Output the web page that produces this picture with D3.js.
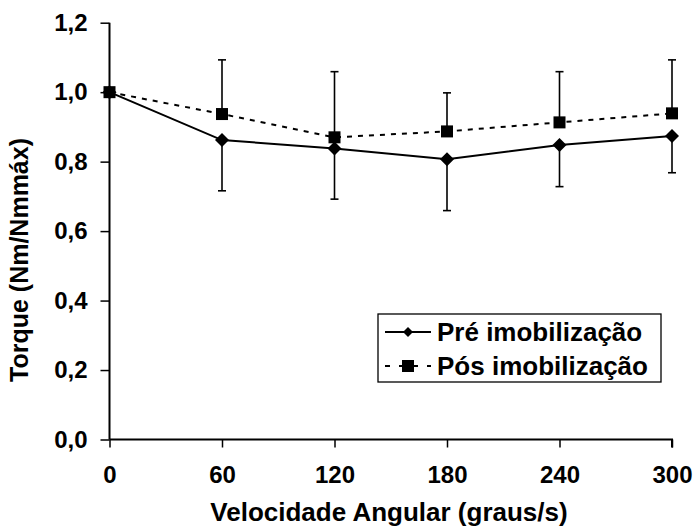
<!DOCTYPE html>
<html>
<head>
<meta charset="utf-8">
<script src="https://cdn.jsdelivr.net/npm/d3@7"></script>
<style>
  body { margin: 0; background: #fff; }
  text { font-family: "Liberation Sans", Arial, sans-serif; font-weight: bold; fill: #000; }
  .axis text { font-size: 24px; }
</style>
</head>
<body>
<div id="chart"></div>
<script>
var velocities = [0, 60, 120, 180, 240, 300];
var preValues = [1.0, 0.862, 0.838, 0.807, 0.848, 0.874];
var preLower = [1.0, 0.716, 0.692, 0.659, 0.728, 0.768];
var posValues = [1.0, 0.937, 0.870, 0.887, 0.913, 0.939];
var posUpper = [1.0, 1.093, 1.059, 0.998, 1.059, 1.093];
var yTicks = [0, 0.2, 0.4, 0.6, 0.8, 1.0, 1.2];
var seriesNames = ["Pré imobilização", "Pós imobilização"];

var width = 694, height = 529;
var margin = { left: 109.5, right: 22, top: 22.7, bottom: 89.5 };

var svg = d3.select("#chart").append("svg")
    .attr("width", width)
    .attr("height", height);

var x = d3.scaleLinear().domain([0, 300]).range([margin.left, width - margin.right]);
var y = d3.scaleLinear().domain([0, 1.2]).range([height - margin.bottom, margin.top]);

var fmt = function(d) { return d3.format(".1f")(d).replace(".", ","); };

// y axis
var yAxis = svg.append("g")
    .attr("class", "axis")
    .attr("transform", "translate(" + margin.left + ",0)")
    .call(d3.axisLeft(y).tickValues(yTicks).tickFormat(fmt).tickSize(9).tickPadding(13));
yAxis.attr("font-size", 24).attr("font-family", "Liberation Sans, Arial, sans-serif").attr("font-weight", "bold");
yAxis.select(".domain").attr("stroke-width", 2).attr("d", "M0," + y(0) + "V" + y(1.2));
yAxis.selectAll(".tick line").attr("stroke-width", 1.5);

// x axis
var xAxis = svg.append("g")
    .attr("class", "axis")
    .attr("transform", "translate(0," + y(0) + ")")
    .call(d3.axisBottom(x).tickValues(velocities).tickSize(8).tickPadding(18));
xAxis.attr("font-size", 24).attr("font-family", "Liberation Sans, Arial, sans-serif").attr("font-weight", "bold");
xAxis.select(".domain").attr("stroke-width", 2).attr("d", "M" + x(0) + ",0H" + x(300) + "V8");
xAxis.selectAll(".tick line").attr("stroke-width", 1.5);

// axis titles
svg.append("text")
    .attr("x", 389).attr("y", 521)
    .attr("text-anchor", "middle")
    .style("font-size", "26px")
    .text("Velocidade Angular (graus/s)");

svg.append("text")
    .attr("transform", "translate(28," + 260 + ") rotate(-90)")
    .attr("text-anchor", "middle")
    .style("font-size", "25px")
    .text("Torque (Nm/Nmmáx)");

// error bars
var cap = 4;
function errorBars(vals, ends) {
    var g = svg.append("g").attr("stroke", "#000").attr("stroke-width", 1.6);
    velocities.forEach(function(v, i) {
        if (ends[i] === vals[i]) return;
        g.append("line")
            .attr("x1", x(v)).attr("x2", x(v))
            .attr("y1", y(vals[i])).attr("y2", y(ends[i]));
        g.append("line")
            .attr("x1", x(v) - cap).attr("x2", x(v) + cap)
            .attr("y1", y(ends[i])).attr("y2", y(ends[i]));
    });
}
errorBars(preValues, preLower);
errorBars(posValues, posUpper);

var line = d3.line()
    .x(function(d, i) { return x(velocities[i]); })
    .y(function(d) { return y(d); });

svg.append("path")
    .datum(posValues)
    .attr("fill", "none")
    .attr("stroke", "#000")
    .attr("stroke-width", 2)
    .attr("stroke-dasharray", "5,6")
    .attr("d", line);

svg.append("path")
    .datum(preValues)
    .attr("fill", "none")
    .attr("stroke", "#000")
    .attr("stroke-width", 2)
    .attr("d", line);

var diamond = "M0,-7L7,0L0,7L-7,0Z";

svg.selectAll(".pre")
    .data(preValues)
    .enter().append("path")
    .attr("class", "pre")
    .attr("d", diamond)
    .attr("transform", function(d, i) { return "translate(" + x(velocities[i]) + "," + y(d) + ")"; });

svg.selectAll(".pos")
    .data(posValues)
    .enter().append("rect")
    .attr("class", "pos")
    .attr("x", function(d, i) { return x(velocities[i]) - 6; })
    .attr("y", function(d) { return y(d) - 6; })
    .attr("width", 12).attr("height", 12);

// legend
var lg = svg.append("g");
lg.append("rect")
    .attr("x", 378).attr("y", 314)
    .attr("width", 283).attr("height", 68)
    .attr("fill", "#fff").attr("stroke", "#000").attr("stroke-width", 1.3);

lg.append("line").attr("x1", 385).attr("x2", 431).attr("y1", 332).attr("y2", 332)
    .attr("stroke", "#000").attr("stroke-width", 2);
lg.append("path").attr("d", "M0,-5L5,0L0,5L-5,0Z").attr("transform", "translate(408,332)");

lg.append("line").attr("x1", 385).attr("x2", 431).attr("y1", 366).attr("y2", 366)
    .attr("stroke", "#000").attr("stroke-width", 2).attr("stroke-dasharray", "5,9");
lg.append("rect").attr("x", 402).attr("y", 360).attr("width", 12).attr("height", 12);

lg.selectAll(".lt")
    .data(seriesNames)
    .enter().append("text")
    .attr("class", "lt")
    .attr("x", 437)
    .attr("y", function(d, i) { return 341 + i * 34; })
    .style("font-size", "26px")
    .text(function(d) { return d; });
</script>
</body>
</html>
